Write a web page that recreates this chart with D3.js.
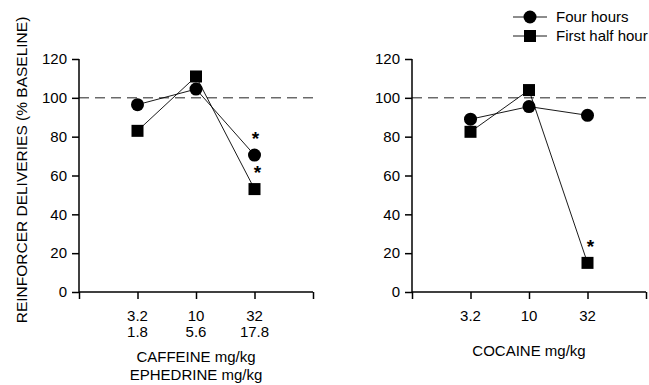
<!DOCTYPE html>
<html lang="en">
<head>
  <meta charset="UTF-8">
  <title>Reinforcer deliveries</title>
  <script src="https://d3js.org/d3.v7.min.js"></script>
  <style>
    body {
      margin: 0;
      background: #fff;
      font-family: 'Liberation Sans', Arial, sans-serif;
    }
    svg { display: block; }
    .tick text { font-size: 15px; fill: #000; }
  </style>
</head>
<body>
<svg width="649" height="385"></svg>
<script>
// doses (positions 1..3 on each x axis)
const leftDoseTop = ["3.2", "10", "32"];
const leftDoseBottom = ["1.8", "5.6", "17.8"];
const rightDose = ["3.2", "10", "32"];

// % baseline values
const leftFourHours = [96.5, 104.5, 70.5];
const leftFirstHalf = [83, 111, 53];
const rightFourHours = [89, 95.5, 91];
const rightFirstHalf = [82.5, 104, 15];

// which points carry a significance star
const leftStars = {four: [2], half: [2]};
const rightStars = {four: [], half: [2]};

const yTicks = [0, 20, 40, 60, 80, 100, 120];

const svg = d3.select("svg");

function panel(opts) {
  const g = svg.append("g").attr("transform", `translate(${opts.left},0)`);
  const w = 234;
  const x = d3.scaleLinear().domain([0, 4]).range([0, w]);
  const y = d3.scaleLinear().domain([0, 120]).range([292, 59]);

  // baseline
  g.append("line")
    .attr("x1", 0).attr("x2", w)
    .attr("y1", y(100)).attr("y2", y(100))
    .attr("stroke", "#222").attr("stroke-width", 1)
    .attr("stroke-dasharray", "10 6");

  // y axis
  const ya = g.append("g").call(d3.axisLeft(y).tickValues(yTicks).tickSize(7).tickPadding(5));
  ya.select(".domain").attr("stroke-width", 1.5).attr("d", `M0,${y(120)}V${y(0)}`);
  ya.selectAll(".tick line").attr("stroke-width", 1.5);
  ya.selectAll(".tick text").attr("font-family", "'Liberation Sans', Arial, sans-serif");

  // x axis
  const xa = g.append("g").attr("transform", `translate(0,${y(0)})`)
    .call(d3.axisBottom(x).tickValues([0, 1, 2, 3, 4]).tickSize(7).tickFormat(""));
  xa.select(".domain").attr("stroke-width", 1.5).attr("d", `M0,0H${w}`);
  xa.selectAll(".tick line").attr("stroke-width", 1.5);

  opts.topLabels.forEach((t, i) => {
    g.append("text").attr("x", x(i + 1)).attr("y", 321)
      .attr("text-anchor", "middle").attr("font-size", 15).text(t);
  });
  if (opts.bottomLabels) {
    opts.bottomLabels.forEach((t, i) => {
      g.append("text").attr("x", x(i + 1)).attr("y", 337)
        .attr("text-anchor", "middle").attr("font-size", 15).text(t);
    });
  }
  opts.title.forEach((t, i) => {
    g.append("text").attr("x", x(2)).attr("y", opts.titleY + i * 18)
      .attr("text-anchor", "middle").attr("font-size", 15).text(t);
  });

  const line = d3.line().x((d, i) => x(i + 1)).y(d => y(d));
  [opts.half, opts.four].forEach(s => {
    g.append("path").datum(s).attr("fill", "none")
      .attr("stroke", "#000").attr("stroke-width", 0.9).attr("d", line);
  });

  g.selectAll("rect.sq").data(opts.half).join("rect")
    .attr("class", "sq")
    .attr("x", (d, i) => x(i + 1) - 6).attr("y", d => y(d) - 6)
    .attr("width", 12).attr("height", 12).attr("fill", "#000");
  g.selectAll("circle").data(opts.four).join("circle")
    .attr("cx", (d, i) => x(i + 1)).attr("cy", d => y(d))
    .attr("r", 6.5).attr("fill", "#000");

  opts.stars.four.forEach(i => {
    g.append("text").attr("x", x(i + 1) + 1).attr("y", y(opts.four[i]) - 10)
      .attr("text-anchor", "middle").attr("font-size", 19).attr("font-weight", "bold").text("*");
  });
  opts.stars.half.forEach(i => {
    g.append("text").attr("x", x(i + 1) + 3).attr("y", y(opts.half[i]) - 10)
      .attr("text-anchor", "middle").attr("font-size", 19).attr("font-weight", "bold").text("*");
  });
}

panel({left: 79, four: leftFourHours, half: leftFirstHalf, stars: leftStars,
  topLabels: leftDoseTop, bottomLabels: leftDoseBottom,
  title: ["CAFFEINE mg/kg", "EPHEDRINE mg/kg"], titleY: 362});
panel({left: 412, four: rightFourHours, half: rightFirstHalf, stars: rightStars,
  topLabels: rightDose, bottomLabels: null,
  title: ["COCAINE mg/kg"], titleY: 356});

// y axis title
svg.append("text")
  .attr("transform", "translate(27,170) rotate(-90)")
  .attr("text-anchor", "middle").attr("font-size", 15.5)
  .text("REINFORCER DELIVERIES (% BASELINE)");

// legend
const legend = [{label: "Four hours", shape: "circle"}, {label: "First half hour", shape: "square"}];
const lg = svg.append("g");
legend.forEach((d, i) => {
  const cy = 17 + i * 19;
  lg.append("line").attr("x1", 513).attr("x2", 547).attr("y1", cy).attr("y2", cy)
    .attr("stroke", "#000").attr("stroke-width", 0.9);
  if (d.shape === "circle") {
    lg.append("circle").attr("cx", 530).attr("cy", cy).attr("r", 6.5).attr("fill", "#000");
  } else {
    lg.append("rect").attr("x", 524).attr("y", cy - 6).attr("width", 12).attr("height", 12).attr("fill", "#000");
  }
  lg.append("text").attr("x", 556).attr("y", cy + 5).attr("font-size", 15).text(d.label);
});
</script>
</body>
</html>
